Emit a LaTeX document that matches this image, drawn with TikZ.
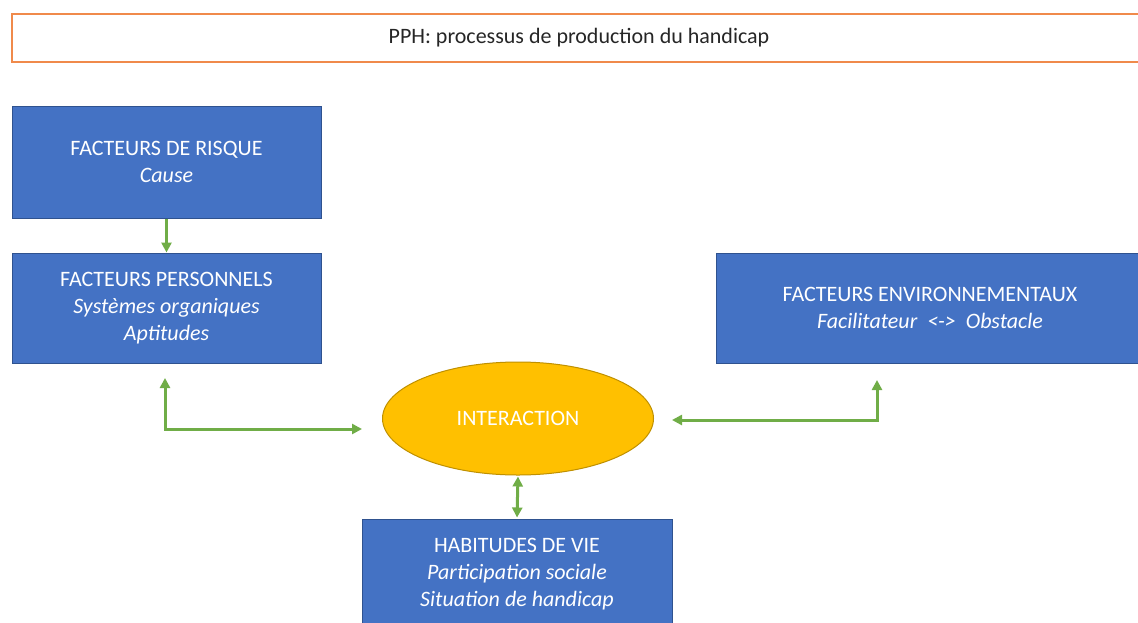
\documentclass[tikz,border=0pt]{standalone}
\usepackage{fontspec}
\setmainfont{Carlito}
\usepackage{tikz}
\usetikzlibrary{arrows.meta, shapes.geometric}
\definecolor{boxblue}{HTML}{4472C4}
\definecolor{boxedge}{HTML}{2F528F}
\definecolor{ovalgold}{HTML}{FFC000}
\definecolor{ovaledge}{HTML}{BF9000}
\definecolor{linkgreen}{HTML}{70AD47}
\definecolor{titleedge}{HTML}{F08A4B}

\begin{document}
\begin{tikzpicture}[x=1pt, y=1pt,
    bluebox/.style={draw=boxedge, line width=1pt, fill=boxblue, text=white, align=center,
        font=\fontsize{22}{27}\selectfont, inner sep=0pt},
    link/.style={draw=linkgreen, line width=3pt, arrows={-Triangle[length=10pt, width=10pt]}},
    twolink/.style={draw=linkgreen, line width=3pt, arrows={Triangle[length=10pt, width=10pt]-Triangle[length=10pt, width=10pt]}}]
        \useasboundingbox (0,0) rectangle (1138,-622);
        \clip (0,0) rectangle (1138,-622);

        % title
        \node[draw=titleedge, line width=2pt, minimum width=1134pt, minimum height=48pt,
            font=\fontsize{22}{26}\selectfont, text=black!85] (title) at (579,-38)
            {PPH: processus de production du handicap};

        % boxes
        \node[bluebox, minimum width=309pt, minimum height=112pt] (risque) at (166.5,-162)
            {FACTEURS DE RISQUE\\\textit{Cause}};
        \node[bluebox, minimum width=309pt, minimum height=110pt] (perso) at (166.5,-308)
            {FACTEURS PERSONNELS\\\textit{Systèmes organiques}\\\textit{Aptitudes}};
        \node[bluebox, minimum width=428pt, minimum height=110pt] (envir) at (930,-308)
            {FACTEURS ENVIRONNEMENTAUX\\\textit{Facilitateur\ \ <->\ \ Obstacle}};
        \node[bluebox, minimum width=310pt, minimum height=110pt] (habit) at (517,-574)
            {HABITUDES DE VIE\\\textit{Participation sociale}\\\textit{Situation de handicap}};
        \node[ellipse, draw=ovaledge, line width=1pt, fill=ovalgold, text=white, inner sep=0pt,
            minimum width=271pt, minimum height=113pt, font=\fontsize{22}{26}\selectfont]
            (inter) at (518,-418.5) {INTERACTION};

        % free ends of the elbows
        \coordinate (persoA) at (165,-378);
        \coordinate (persoB) at (362,-429);
        \coordinate (envirA) at (877,-380);
        \coordinate (envirB) at (672,-420);

        \draw[link] (risque.south) -- (perso.north);
        \draw[twolink] (persoA) |- (persoB);
        \draw[twolink] (envirA) |- (envirB);
        \draw[twolink, shorten <=1pt, shorten >=1pt] (inter.south) -- (habit.north);
    \end{tikzpicture}
\end{document}
